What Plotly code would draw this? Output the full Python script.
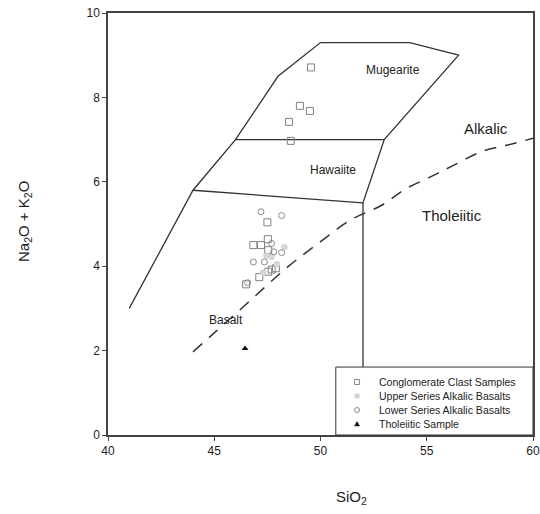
import plotly.graph_objects as go

# Field boundary outline (SiO2, Na2O+K2O)
outline_x = [41, 44, 46, 48, 50, 54.2, 56.5, 53, 52, 52]
outline_y = [3, 5.8, 7, 8.5, 9.3, 9.3, 9.0, 7, 5.5, 0]
hawaiite_top_x = [46, 53]
hawaiite_top_y = [7, 7]
basalt_top_x = [44, 52]
basalt_top_y = [5.8, 5.5]

# Alkalic / tholeiitic divide (dashed)
divide_x = [44, 45, 46.46, 48.5, 50, 51.4, 52.9, 54, 55.15, 56.3, 57.6, 58.8, 60]
divide_y = [1.97, 2.42, 3.08, 4.0, 4.58, 5.09, 5.45, 5.83, 6.11, 6.40, 6.72, 6.87, 7.03]

# Samples
clast_x = [49.55, 49.03, 49.5, 48.52, 48.6, 47.5, 46.84, 47.2, 47.52, 47.54, 47.7, 47.9, 47.12, 46.5, 47.54]
clast_y = [8.71, 7.80, 7.68, 7.42, 6.97, 5.04, 4.50, 4.50, 4.64, 4.38, 3.92, 3.95, 3.74, 3.57, 3.87]
upper_x = [47.7, 47.45, 47.95, 48.3, 47.3]
upper_y = [4.22, 4.25, 4.05, 4.45, 3.85]
lower_x = [47.2, 48.17, 48.17, 46.84, 47.36, 47.8, 46.57, 47.7]
lower_y = [5.29, 5.20, 4.32, 4.10, 4.10, 4.34, 3.61, 4.54]
thol_x = [46.45]
thol_y = [2.05]

series_names = ["Conglomerate Clast Samples", "Upper Series Alkalic Basalts",
                "Lower Series Alkalic Basalts", "Tholeiitic Sample"]

# Field labels
label_text = ["Mugearite", "Hawaiite", "Alkalic", "Tholeiitic", "Basalt"]
label_x = [53.4, 50.6, 57.8, 56.2, 45.55]
label_y = [8.65, 6.28, 7.27, 5.19, 2.72]
label_size = [12, 12, 15, 15, 12]

fig = go.Figure()
line_col = "#333333"
for xs, ys in [(outline_x, outline_y), (hawaiite_top_x, hawaiite_top_y), (basalt_top_x, basalt_top_y)]:
    fig.add_trace(go.Scatter(x=xs, y=ys, mode="lines",
                             line=dict(color=line_col, width=1.3), showlegend=False, hoverinfo="skip"))
fig.add_trace(go.Scatter(x=divide_x, y=divide_y, mode="lines", line_shape="spline",
                         line=dict(color=line_col, width=1.5, dash="12px,9px"),
                         showlegend=False, hoverinfo="skip"))

fig.add_trace(go.Scatter(x=clast_x, y=clast_y, mode="markers", name=series_names[0], showlegend=False,
                         marker=dict(symbol="square-open", size=7, color="#808080", line=dict(width=1))))
fig.add_trace(go.Scatter(x=upper_x, y=upper_y, mode="markers", name=series_names[1], showlegend=False,
                         marker=dict(symbol="circle", size=6, color="#d6d6d6",
                                     line=dict(width=0.5, color="#cccccc"))))
fig.add_trace(go.Scatter(x=lower_x, y=lower_y, mode="markers", name=series_names[2], showlegend=False,
                         marker=dict(symbol="circle-open", size=6, color="#8a8a8a", line=dict(width=1))))
fig.add_trace(go.Scatter(x=thol_x, y=thol_y, mode="markers", name=series_names[3], showlegend=False,
                         marker=dict(symbol="triangle-up", size=6, color="#111111")))

for t, x, y, s in zip(label_text, label_x, label_y, label_size):
    fig.add_annotation(x=x, y=y, text=t, showarrow=False,
                       font=dict(size=s, color="#222222", family="Liberation Sans, Arial"))

# Custom legend box (bottom right, inside plot)
leg_x0, leg_x1, leg_y0, leg_y1 = 0.536, 1.0, 0.0, 0.161
fig.add_shape(type="rect", xref="paper", yref="paper", x0=leg_x0, x1=leg_x1, y0=leg_y0, y1=leg_y1,
              fillcolor="white", line=dict(color="#333333", width=1), layer="above")
entry_y = [0.1256, 0.0924, 0.0592, 0.026]
key_x = 0.586
text_x = 0.633
for i, (name, yy) in enumerate(zip(series_names, entry_y)):
    fig.add_annotation(xref="paper", yref="paper", x=text_x, y=yy, text=name, showarrow=False,
                       xanchor="left", yanchor="middle", font=dict(size=10.5, color="#222222"))
    if i == 0:
        fig.add_shape(type="rect", xref="paper", yref="paper", xsizemode="pixel", ysizemode="pixel",
                      xanchor=key_x, yanchor=yy, x0=-2.5, x1=2.5, y0=-2.5, y1=2.5,
                      line=dict(color="#888888", width=1), fillcolor="white", layer="above")
    elif i == 1:
        fig.add_shape(type="circle", xref="paper", yref="paper", xsizemode="pixel", ysizemode="pixel",
                      xanchor=key_x, yanchor=yy, x0=-2.5, x1=2.5, y0=-2.5, y1=2.5,
                      line=dict(color="#cccccc", width=0.5), fillcolor="#d6d6d6", layer="above")
    elif i == 2:
        fig.add_shape(type="circle", xref="paper", yref="paper", xsizemode="pixel", ysizemode="pixel",
                      xanchor=key_x, yanchor=yy, x0=-2.5, x1=2.5, y0=-2.5, y1=2.5,
                      line=dict(color="#888888", width=1), fillcolor="white", layer="above")
    else:
        fig.add_shape(type="path", xref="paper", yref="paper", xsizemode="pixel", ysizemode="pixel",
                      xanchor=key_x, yanchor=yy, path="M -2.5,-2 L 2.5,-2 L 0,2.5 Z",
                      line=dict(color="#111111", width=0.5), fillcolor="#111111", layer="above")

fig.add_annotation(xref="paper", yref="paper", x=0.574, y=-0.147, text="SiO<sub>2</sub>",
                   showarrow=False, font=dict(size=15, color="#222222"),
                   xanchor="center", yanchor="middle")
fig.add_annotation(xref="paper", yref="paper", x=-0.195, y=0.505, text="Na<sub>2</sub>O + K<sub>2</sub>O",
                   showarrow=False, textangle=-90, font=dict(size=15, color="#222222"),
                   xanchor="center", yanchor="middle")

axis_common = dict(showgrid=False, zeroline=False, showline=True, linecolor="#444444",
                   linewidth=1.5, mirror=True, ticks="outside", ticklen=4, tickcolor="#444444",
                   tickfont=dict(size=12, color="#222222"), automargin=False,
                   ticklabeloverflow="allow")
fig.update_xaxes(range=[40, 60], tickvals=[40, 45, 50, 55, 60], **axis_common)
fig.update_yaxes(range=[0, 10], tickvals=[0, 2, 4, 6, 8, 10], **axis_common)

fig.update_layout(
    width=540, height=514,
    margin=dict(l=108, r=7, t=13, b=79),
    paper_bgcolor="white", plot_bgcolor="white",
    font=dict(family="Liberation Sans, Arial", color="#222222"),
    showlegend=False,
)

# remove the default page margin so the 540x514 figure fills the window exactly
fig.write_html("out.html", config={"displayModeBar": False},
               post_script="document.body.style.margin='0';document.body.style.overflow='hidden';")
